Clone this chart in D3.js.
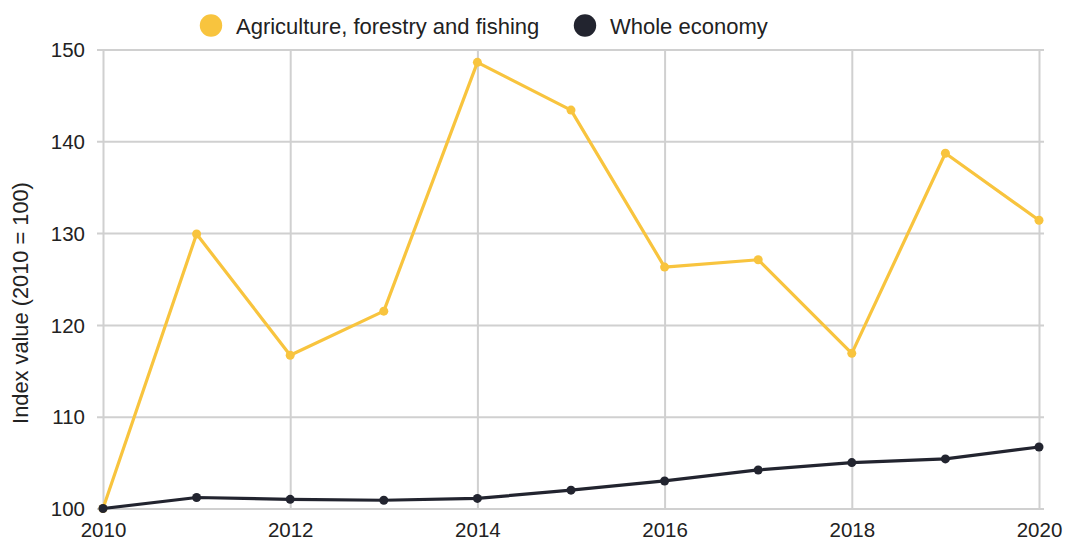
<!DOCTYPE html>
<html>
<head>
<meta charset="utf-8">
<script src="https://cdn.jsdelivr.net/npm/d3@7"></script>
<style>
  html, body { margin: 0; padding: 0; background: #fff; }
  svg { display: block; font-family: "Liberation Sans", Arial, sans-serif; }
</style>
</head>
<body>
<svg id="chart" width="1065" height="541"></svg>
<script>
// Index values, 2010 = 100
const years = [2010, 2011, 2012, 2013, 2014, 2015, 2016, 2017, 2018, 2019, 2020];
const agriculture = [100, 129.9, 116.7, 121.5, 148.6, 143.4, 126.3, 127.1, 116.9, 138.7, 131.4];
const wholeEconomy = [100, 101.2, 101.0, 100.9, 101.1, 102.0, 103.0, 104.2, 105.0, 105.4, 106.7];
const seriesNames = ["Agriculture, forestry and fishing", "Whole economy"];
const seriesColors = ["#f8c43e", "#22242f"];
const xTicks = [2010, 2012, 2014, 2016, 2018, 2020];
const yTicks = [100, 110, 120, 130, 140, 150];
const yTitle = "Index value (2010 = 100)";

const svg = d3.select("#chart");
const margin = { left: 103, right: 26, top: 49.5, bottom: 32.5 };
const W = 1065, H = 541;

const x = d3.scaleLinear().domain([2010, 2020]).range([margin.left, W - margin.right]);
const y = d3.scaleLinear().domain([100, 150]).range([H - margin.bottom, margin.top]);

const gridColor = "#d0d0d0";
const textColor = "#222222";

// horizontal gridlines with y labels
const yAxis = svg.append("g")
  .attr("transform", `translate(${margin.left},0)`)
  .call(d3.axisLeft(y).tickValues(yTicks).tickSize(-(W - margin.right - margin.left + 5)).tickPadding(18).tickFormat(d3.format("d")));
yAxis.select(".domain").remove();
yAxis.selectAll(".tick line").attr("stroke", gridColor).attr("stroke-width", 2).attr("x1", -6);
yAxis.selectAll(".tick text").attr("fill", textColor).style("font-size", "20.5px").attr("dy", "0.35em");

// vertical gridlines with x labels
const xAxis = svg.append("g")
  .attr("transform", `translate(0,${H - margin.bottom})`)
  .call(d3.axisBottom(x).tickValues(xTicks).tickSize(-(H - margin.bottom - margin.top)).tickPadding(14).tickFormat(d3.format("d")));
xAxis.select(".domain").remove();
xAxis.selectAll(".tick line").attr("stroke", gridColor).attr("stroke-width", 2);
xAxis.selectAll(".tick text").attr("fill", textColor).style("font-size", "20.5px").attr("dy", "0.71em");

// y axis title
svg.append("text")
  .attr("transform", `translate(28,303) rotate(-90)`)
  .attr("text-anchor", "middle")
  .attr("fill", textColor)
  .style("font-size", "21.8px")
  .text(yTitle);

const line = d3.line().x((d, i) => x(years[i])).y(d => y(d));

[agriculture, wholeEconomy].forEach((vals, k) => {
  svg.append("path")
    .datum(vals)
    .attr("fill", "none")
    .attr("stroke", seriesColors[k])
    .attr("stroke-width", 3.2)
    .attr("stroke-linejoin", "round")
    .attr("d", line);
  svg.append("g").selectAll("circle")
    .data(vals)
    .join("circle")
    .attr("cx", (d, i) => x(years[i]))
    .attr("cy", d => y(d))
    .attr("r", 4.5)
    .attr("fill", seriesColors[k]);
});

// legend
const legendPos = [211, 585];
seriesNames.forEach((name, k) => {
  svg.append("circle")
    .attr("cx", legendPos[k]).attr("cy", 25.5).attr("r", 11.2)
    .attr("fill", seriesColors[k]);
  svg.append("text")
    .attr("x", legendPos[k] + 25).attr("y", 34)
    .attr("fill", textColor)
    .style("font-size", "22px")
    .text(name);
});
</script>
</body>
</html>
